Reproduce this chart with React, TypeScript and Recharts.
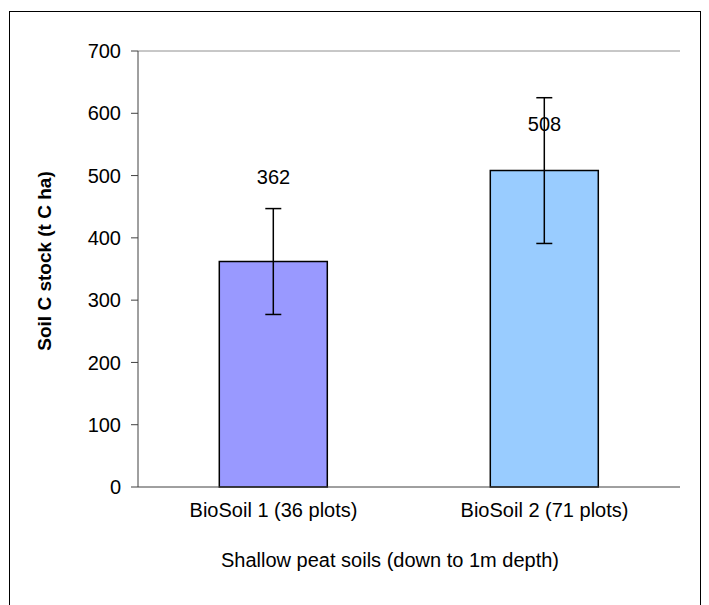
import * as React from "react"
import {
  ComposedChart,
  Bar,
  Cell,
  ErrorBar,
  Scatter,
  XAxis,
  YAxis,
  ReferenceLine,
} from "recharts"

// values
const CATEGORIES = ["BioSoil 1 (36 plots)", "BioSoil 2 (71 plots)"]
const STOCK = [362, 508]
const ERRORS = [85, 117]
// where the value labels sit, in axis units (moved by hand in the original)
const LABEL_AT = [497, 583]
const Y_TICKS = [0, 100, 200, 300, 400, 500, 600, 700]

const BAR_COLORS = ["#9999FF", "#99CCFF"]
const FONT = "'Liberation Sans', Arial, sans-serif"

const data = CATEGORIES.map((name, i) => ({
  name,
  stock: STOCK[i],
  err: ERRORS[i],
  labelAt: LABEL_AT[i],
}))

const ValueLabel = (props: any) => {
  const { cx, cy, payload } = props
  return (
    <text x={cx} y={cy} textAnchor="middle" dominantBaseline="central" fontSize={20} fill="#000" fontFamily={FONT}>
      {payload.stock}
    </text>
  )
}

const YTitle = (props: any) => {
  const vb = props.viewBox
  const x = vb.x + 34
  const y = vb.y + vb.height / 2 - 8
  return (
    <text
      x={x}
      y={y}
      transform={`rotate(-90, ${x}, ${y})`}
      textAnchor="middle"
      dominantBaseline="central"
      fontSize={19}
      fontWeight="bold"
      fill="#000"
      fontFamily={FONT}
    >
      Soil C stock (t C ha)
    </text>
  )
}

export default function App() {
  return (
    <div style={{ width: 690, height: 600, border: "1px solid #000", marginTop: 3, marginLeft: 1, background: "#fff" }}>
      <ComposedChart
        width={690}
        height={590}
        data={data}
        margin={{ top: 39, right: 20, left: 0, bottom: 35 }}
        barCategoryGap="30%"
        style={{ fontFamily: FONT }}
      >
        <XAxis
          xAxisId="bounds"
          type="number"
          domain={[0, 2]}
          ticks={[0, 1, 2]}
          allowDataOverflow
          height={0}
          axisLine={false}
          tick={false}
          tickSize={6}
          tickLine={{ stroke: "#404040" }}
        />
        <XAxis
          dataKey="name"
          height={80}
          axisLine={{ stroke: "#404040" }}
          tickLine={false}
          tickSize={6}
          tickMargin={10}
          tick={{ fontSize: 20, fill: "#000" }}
          label={{ value: "Shallow peat soils (down to 1m depth)", position: "insideBottom", offset: 0, dx: -19, fontSize: 20, fill: "#000" }}
        />
        <YAxis
          domain={[0, 700]}
          ticks={Y_TICKS}
          width={128}
          axisLine={{ stroke: "#404040" }}
          tickLine={{ stroke: "#404040" }}
          tickSize={7}
          tickMargin={10}
          tick={{ fontSize: 20, fill: "#000" }}
          label={{ content: YTitle }}
        />
        <YAxis
          yAxisId="frame"
          orientation="right"
          domain={[0, 700]}
          width={0}
          tick={false}
          tickLine={false}
          axisLine={{ stroke: "#909090" }}
        />
        <ReferenceLine y={700} stroke="#909090" />
        <Bar dataKey="stock" stroke="#000" strokeWidth={1.5} isAnimationActive={false}>
          {data.map((d, i) => (
            <Cell key={d.name} fill={BAR_COLORS[i]} />
          ))}
          <ErrorBar dataKey="err" width={8} stroke="#000" strokeWidth={1.5} />
        </Bar>
        <Scatter dataKey="labelAt" shape={ValueLabel} isAnimationActive={false} />
      </ComposedChart>
    </div>
  )
}
